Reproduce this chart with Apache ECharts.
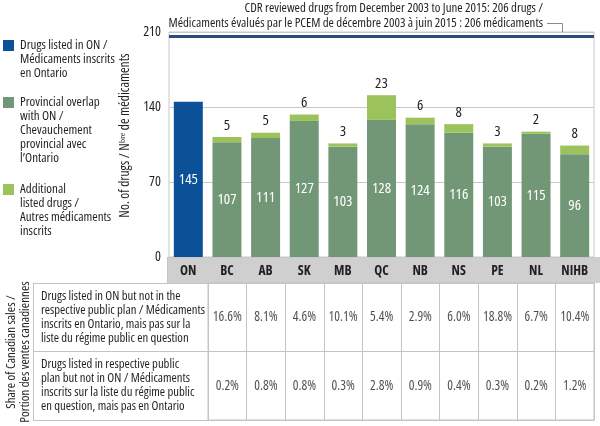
<!DOCTYPE html>
<html><head><meta charset="utf-8">
<script src="https://cdn.jsdelivr.net/npm/echarts@6/dist/echarts.min.js"></script>
<style>html,body{margin:0;padding:0;background:#fff}#c{width:600px;height:426px}</style>
</head><body><div id="c"></div>
<script>
const categories = ['ON','BC','AB','SK','MB','QC','NB','NS','PE','NL','NIHB'];
const listedInON = [145,'-','-','-','-','-','-','-','-','-','-'];
const provincialOverlap = ['-',107,111,127,103,128,124,116,103,115,96];
const additionalListed = ['-',5,5,6,3,23,6,8,3,2,8];
const reviewedTotal = 206;
const yTicks = [0,70,140,210];
const tableColumns = ['BC','AB','SK','MB','QC','NB','NS','PE','NL','NIHB'];
const shareNotInPlan = [16.6,8.1,4.6,10.1,5.4,2.9,6.0,18.8,6.7,10.4];
const shareNotInON = [0.2,0.8,0.8,0.3,2.8,0.9,0.4,0.3,0.2,1.2];
const rowLabels = [
 'Drugs listed in ON but not in the\nrespective public plan / Médicaments\ninscrits en Ontario, mais pas sur la\nliste du régime public en question',
 'Drugs listed in respective public\nplan but not in ON / Médicaments\ninscrits sur la liste du régime public\nen question, mais pas en Ontario'
];
const legendNames = [
 'Drugs listed in ON /\nMédicaments inscrits\nen Ontario',
 'Provincial overlap\nwith ON /\nChevauchement\nprovincial avec\nl\u2019Ontario',
 'Additional\nlisted drugs /\nAutres médicaments\ninscrits'
];
const FAM = "'Open Sans'";
const CW = 'condensed';
const font = (s, b) => (b ? 'bold ' : '') + 'condensed ' + s + 'px ' + FAM;
const C_BLUE = '#0b5197', C_GREEN = '#729777', C_LIGHT = '#9cc35b', GRID = '#c8c8c8', TBL = '#c4c4c4', TXT = '#231f20';

const tableData = [];
tableColumns.forEach((c,i)=>{ tableData.push([i,0,shareNotInPlan[i]]); tableData.push([i,1,shareNotInON[i]]); });

const chart = echarts.init(document.getElementById('c'), null, {renderer:'canvas'});
const legendColors = [C_BLUE, C_GREEN, C_LIGHT];
const legendTops = [40, 97, 184];
const graphics = [
 {type:'rect', z:-10, shape:{x:167,y:257,width:433,height:26}, style:{fill:'#cfcfcf'}, silent:true},
 {type:'line', z:-9, shape:{x1:167.5,y1:257,x2:167.5,y2:283}, style:{stroke:TBL, lineWidth:1}, silent:true},
 {type:'text', style:{text:'CDR reviewed drugs from December 2003 to June 2015: 206 drugs /\nMédicaments évalués par le PCEM de décembre 2003 à juin 2015 : 206 médicaments',
   x:543, y:1, align:'right', verticalAlign:'top', font:font(12.9), lineHeight:15, fill:TXT}},
 {type:'polyline', shape:{points:[[547,23.5],[562.5,23.5],[562.5,33]]}, style:{stroke:'#8a8a8a', lineWidth:1, fill:null}},
 {type:'text', rotation:Math.PI/2, x:18, y:352, style:{text:'Share of Canadian sales /\nPortion des ventes canadiennes', align:'center', verticalAlign:'middle', font:font(13), lineHeight:14, fill:TXT}}
];
legendNames.forEach((n,i)=>{
 graphics.push({type:'rect', shape:{x:3,y:legendTops[i],width:11,height:11}, style:{fill:legendColors[i]}});
 graphics.push({type:'text', style:{text:n, x:20, y:legendTops[i]-1.5, verticalAlign:'top', font:font(13), lineHeight:14, fill:TXT}});
});

const option = {
 animation:false,
 textStyle:{fontFamily:FAM, fontWeight:CW},
 graphic:graphics,
 grid:[
  {left:169, right:6, top:32, bottom:169, show:true, borderColor:GRID, borderWidth:1},
  {left:208, right:6, top:283, height:137, show:true, borderColor:TBL, borderWidth:1}
 ],
 xAxis:[
  {type:'category', gridIndex:0, data:categories, axisTick:{show:false}, axisLine:{show:false},
   axisLabel:{interval:0, color:TXT, fontSize:13.5, fontWeight:'bold condensed', margin:7, fontFamily:FAM}},
  {type:'category', gridIndex:1, data:tableColumns, axisTick:{show:false}, axisLabel:{show:false},
   axisLine:{show:true, lineStyle:{color:TBL}}, splitLine:{show:true, lineStyle:{color:TBL}}}
 ],
 yAxis:[
  {type:'value', gridIndex:0, min:yTicks[0], max:yTicks[yTicks.length-1], interval:70,
   axisLine:{show:false}, axisTick:{show:false}, splitLine:{lineStyle:{color:GRID}},
   axisLabel:{color:TXT, fontSize:14, margin:8, fontFamily:FAM, fontWeight:CW, padding:[0,0,7,0]},
   name:'No. of drugs / N\u1D47\u02B3\u1D49 de médicaments', nameLocation:'middle', nameGap:30, nameRotate:90,
   nameTextStyle:{color:TXT, fontSize:13.5, fontFamily:FAM, fontWeight:CW, padding:[0,0,0,18]}},
  {type:'category', gridIndex:1, data:rowLabels, inverse:true,
   axisLine:{show:true, lineStyle:{color:TBL}},
   axisTick:{show:true, length:175, lineStyle:{color:TBL}},
   splitLine:{show:true, lineStyle:{color:TBL}},
   axisLabel:{align:'left', margin:167, fontSize:12.7, lineHeight:14, color:TXT, fontFamily:FAM, fontWeight:CW}},
  {type:'category', gridIndex:1, data:rowLabels, inverse:true, position:'left', offset:175,
   axisLine:{show:true, lineStyle:{color:TBL}}, axisTick:{show:false}, axisLabel:{show:false}}
 ],
 series:[
  {name:'on', type:'bar', stack:'s', data:listedInON, barCategoryGap:'25%', itemStyle:{color:C_BLUE},
   label:{show:true, position:'inside', color:'#fff', fontSize:15, fontFamily:FAM, fontWeight:CW},
   markLine:{silent:true, symbol:'none', label:{show:false}, lineStyle:{color:'#2b4c7e', width:3, type:'solid'}, data:[{yAxis:reviewedTotal}]}},
  {name:'overlap', type:'bar', stack:'s', data:provincialOverlap, itemStyle:{color:C_GREEN},
   label:{show:true, position:'inside', color:'#fff', fontSize:15, fontFamily:FAM, fontWeight:CW}},
  {name:'additional', type:'bar', stack:'s', data:additionalListed, itemStyle:{color:C_LIGHT},
   label:{show:true, position:'top', color:TXT, fontSize:15, distance:4, fontFamily:FAM, fontWeight:CW}},
  {name:'table', type:'scatter', xAxisIndex:1, yAxisIndex:1, data:tableData, symbolSize:1,
   itemStyle:{color:'rgba(0,0,0,0)'},
   label:{show:true, position:'inside', color:TXT, fontSize:13.5, fontFamily:FAM, fontWeight:CW,
    formatter:p=>p.value[2].toFixed(1)+'%'}}
 ]
};
chart.setOption(option);
</script></body></html>
